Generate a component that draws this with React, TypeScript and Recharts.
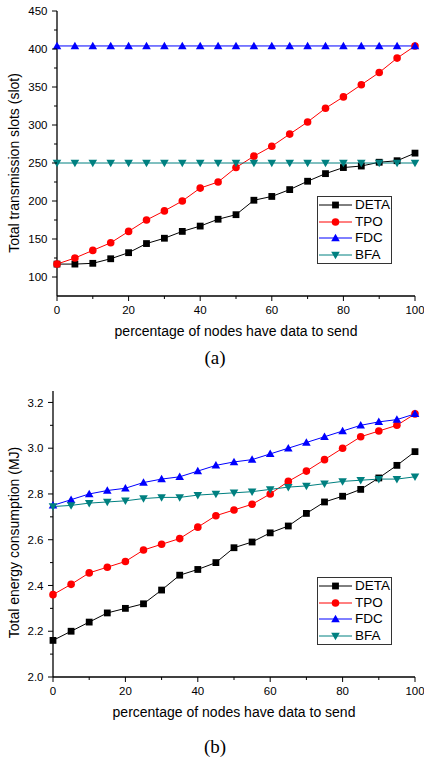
import React from 'react';
import { LineChart, Line, XAxis, YAxis, Legend } from 'recharts';

const FONT = '"Liberation Sans", Arial, Helvetica, sans-serif';
const SERIF = '"Liberation Serif", "Times New Roman", serif';

// x: percentage of nodes that have data to send
const percentNodes = [0, 5, 10, 15, 20, 25, 30, 35, 40, 45, 50, 55, 60, 65, 70, 75, 80, 85, 90, 95, 100];
const xMajorTicks = [0, 20, 40, 60, 80, 100];
const xMinorTicks = [10, 30, 50, 70, 90];

// (a) total transmission slots
const slotsDeta = [117, 117, 118, 124, 132, 144, 151, 160, 167, 176, 182, 201, 206, 215, 226, 236, 244, 246, 251, 253, 263];
const slotsTpo = [117, 125, 135, 145, 160, 175, 187, 200, 217, 225, 244, 259, 272, 288, 304, 322, 337, 353, 369, 388, 404];
const slotsFdc = [404, 404, 404, 404, 404, 404, 404, 404, 404, 404, 404, 404, 404, 404, 404, 404, 404, 404, 404, 404, 404];
const slotsBfa = [250, 250, 250, 250, 250, 250, 250, 250, 250, 250, 250, 250, 250, 250, 250, 250, 250, 250, 250, 250, 250];
const slotMajorTicks = [100, 150, 200, 250, 300, 350, 400, 450];
const slotMinorTicks = [125, 175, 225, 275, 325, 375, 425];

// (b) total energy consumption (MJ)
const energyDeta = [2.16, 2.2, 2.24, 2.28, 2.3, 2.32, 2.38, 2.445, 2.47, 2.5, 2.565, 2.59, 2.63, 2.66, 2.715, 2.765, 2.79, 2.82, 2.87, 2.925, 2.985];
const energyTpo = [2.36, 2.405, 2.455, 2.48, 2.505, 2.555, 2.58, 2.605, 2.655, 2.705, 2.73, 2.755, 2.8, 2.855, 2.9, 2.95, 3.0, 3.05, 3.075, 3.1, 3.15];
const energyFdc = [2.75, 2.775, 2.8, 2.815, 2.825, 2.85, 2.865, 2.875, 2.9, 2.925, 2.94, 2.95, 2.975, 3.0, 3.025, 3.05, 3.075, 3.1, 3.115, 3.125, 3.15];
const energyBfa = [2.745, 2.75, 2.76, 2.765, 2.77, 2.78, 2.785, 2.785, 2.795, 2.8, 2.805, 2.81, 2.82, 2.83, 2.835, 2.845, 2.855, 2.86, 2.865, 2.865, 2.875];
const energyMajorTicks = [2.0, 2.2, 2.4, 2.6, 2.8, 3.0, 3.2];
const energyMinorTicks = [2.1, 2.3, 2.5, 2.7, 2.9, 3.1];

const SERIES = [
  { key: 'deta', name: 'DETA', color: '#000000', marker: 'square' },
  { key: 'tpo', name: 'TPO', color: '#ff0000', marker: 'circle' },
  { key: 'fdc', name: 'FDC', color: '#0000ff', marker: 'up' },
  { key: 'bfa', name: 'BFA', color: '#008080', marker: 'down' },
];

const slotRows = percentNodes.map((p, i) => ({
  p,
  deta: slotsDeta[i],
  tpo: slotsTpo[i],
  fdc: slotsFdc[i],
  bfa: slotsBfa[i],
}));

const energyRows = percentNodes.map((p, i) => ({
  p,
  deta: energyDeta[i],
  tpo: energyTpo[i],
  fdc: energyFdc[i],
  bfa: energyBfa[i],
}));

const Marker = ({ cx, cy, shape, color }: { cx?: number; cy?: number; shape: string; color: string }) => {
  if (cx == null || cy == null) return null;
  if (shape === 'square') return <rect x={cx - 3.4} y={cy - 3.4} width={6.8} height={6.8} fill={color} />;
  if (shape === 'circle') return <circle cx={cx} cy={cy} r={3.8} fill={color} />;
  if (shape === 'up')
    return <polygon points={`${cx},${cy - 4.3} ${cx - 4.3},${cy + 3.2} ${cx + 4.3},${cy + 3.2}`} fill={color} />;
  return <polygon points={`${cx},${cy + 4.3} ${cx - 4.3},${cy - 3.2} ${cx + 4.3},${cy - 3.2}`} fill={color} />;
};

const LegendBox = () => (
  <div style={{ border: '1px solid #333', width: 73, background: '#fff', fontFamily: FONT, fontSize: 13.5, color: '#000' }}>
    {SERIES.map(s => (
      <div key={s.key} style={{ display: 'flex', alignItems: 'center', height: 16.5 }}>
        <svg width={37} height={16} style={{ display: 'block' }}>
          <line x1={1} y1={8} x2={34} y2={8} stroke={s.color} strokeWidth={1} />
          <Marker cx={17.5} cy={8} shape={s.marker} color={s.color} />
        </svg>
        <span style={{ lineHeight: '16px' }}>{s.name}</span>
      </div>
    ))}
  </div>
);

const isMajor = (majors: number[], v: number) => majors.some(m => Math.abs(m - v) < 1e-9);

const BottomTick = (props: any) => {
  const { x, y, payload } = props;
  const major = isMajor(xMajorTicks, payload.value);
  return (
    <g>
      <line x1={x} y1={y} x2={x} y2={y + (major ? 5 : 3)} stroke="#000" strokeWidth={1} />
      {major && (
        <text x={x} y={y + 18} textAnchor="middle" fontSize={11.5} fill="#000" fontFamily={FONT}>
          {payload.value}
        </text>
      )}
    </g>
  );
};

const TopTick = (props: any) => {
  const { x, y, payload } = props;
  const major = isMajor(xMajorTicks, payload.value);
  return <line x1={x} y1={y} x2={x} y2={y + (major ? 5 : 3)} stroke="#000" strokeWidth={1} />;
};

const makeLeftTick = (majors: number[], fmt: (v: number) => string) => (props: any) => {
  const { x, y, payload } = props;
  const major = isMajor(majors, payload.value);
  return (
    <g>
      <line x1={x} y1={y} x2={x - (major ? 5 : 3)} y2={y} stroke="#000" strokeWidth={1} />
      {major && (
        <text x={x - 9.5} y={y} dy="0.36em" textAnchor="end" fontSize={11.5} fill="#000" fontFamily={FONT}>
          {fmt(payload.value)}
        </text>
      )}
    </g>
  );
};

const makeRightTick = (majors: number[]) => (props: any) => {
  const { x, y, payload } = props;
  const major = isMajor(majors, payload.value);
  return <line x1={x} y1={y} x2={x - (major ? 5 : 3)} y2={y} stroke="#000" strokeWidth={1} />;
};

const frame = { stroke: '#000', strokeWidth: 1.3 };
const xTicks = [...xMajorTicks, ...xMinorTicks].sort((a, b) => a - b);

type PanelProps = {
  rows: Record<string, number>[];
  yDomain: [number, number];
  yMajor: number[];
  yMinor: number[];
  yFormat: (v: number) => string;
  yAxisWidth: number;
  xAxisHeight: number;
  yLabel: string;
  yLabelDx: number;
  yLabelDy: number;
  xLabelOffset: number;
  legendLeft: number;
  legendTop: number;
};

const Panel = (p: PanelProps) => {
  const yTicks = [...p.yMajor, ...p.yMinor].sort((a, b) => a - b);
  return (
    <LineChart
      width={424}
      height={340}
      data={p.rows}
      margin={{ top: 11, right: 9, bottom: 0, left: 0 }}
      style={{ fontFamily: FONT }}
    >
      <XAxis
        dataKey="p"
        type="number"
        domain={[0, 100]}
        ticks={xTicks}
        interval={0}
        height={p.xAxisHeight}
        tickSize={0}
        tickMargin={0}
        tickLine={false}
        axisLine={frame}
        tick={BottomTick}
        label={{ value: 'percentage of nodes have data to send', position: 'insideBottom', offset: p.xLabelOffset, fontSize: 14, fill: '#000' }}
      />
      <XAxis
        xAxisId="top"
        orientation="top"
        type="number"
        domain={[0, 100]}
        allowDataOverflow
        ticks={xTicks}
        interval={0}
        height={0}
        tickSize={0}
        tickMargin={0}
        tickLine={false}
        axisLine={frame}
        tick={TopTick}
      />
      <YAxis
        type="number"
        domain={p.yDomain}
        ticks={yTicks}
        interval={0}
        width={p.yAxisWidth}
        tickSize={0}
        tickMargin={0}
        tickLine={false}
        axisLine={frame}
        tick={makeLeftTick(p.yMajor, p.yFormat)}
        label={{ value: p.yLabel, angle: -90, position: 'center', dx: p.yLabelDx, dy: p.yLabelDy, fontSize: 14, fill: '#000' }}
      />
      <YAxis
        yAxisId="right"
        orientation="right"
        type="number"
        domain={p.yDomain}
        allowDataOverflow
        ticks={yTicks}
        interval={0}
        width={0}
        tickSize={0}
        tickMargin={0}
        tickLine={false}
        axisLine={frame}
        tick={makeRightTick(p.yMajor)}
      />
      <Legend
        layout="horizontal"
        verticalAlign="middle"
        align="center"
        content={() => <LegendBox />}
        wrapperStyle={{ left: p.legendLeft, top: p.legendTop, width: 75 }}
      />
      {SERIES.map(s => (
        <Line
          key={s.key}
          type="linear"
          dataKey={s.key}
          name={s.name}
          stroke={s.color}
          strokeWidth={1}
          isAnimationActive={false}
          activeDot={false}
          dot={(d: any) => <Marker key={`${s.key}-${d.index}`} cx={d.cx} cy={d.cy} shape={s.marker} color={s.color} />}
        />
      ))}
    </LineChart>
  );
};

export default function App() {
  return (
    <div style={{ position: 'absolute', left: 0, top: 0, width: 424, height: 762, background: '#fff' }}>
      <div style={{ position: 'absolute', left: 0, top: 0 }}>
        <Panel
          rows={slotRows}
          yDomain={[75, 450]}
          yMajor={slotMajorTicks}
          yMinor={slotMinorTicks}
          yFormat={v => String(v)}
          yAxisWidth={57}
          xAxisHeight={44}
          yLabel="Total transmission slots (slot)"
          yLabelDx={-14.8}
          yLabelDy={9.5}
          xLabelOffset={4.5}
          legendLeft={317}
          legendTop={196}
        />
      </div>
      <div style={{ position: 'absolute', left: 190, width: 50, top: 348, textAlign: 'center', fontFamily: SERIF, fontSize: 19, lineHeight: '19px' }}>
        (a)
      </div>
      <div style={{ position: 'absolute', left: 0, top: 380 }}>
        <Panel
          rows={energyRows}
          yDomain={[2.0, 3.25]}
          yMajor={energyMajorTicks}
          yMinor={energyMinorTicks}
          yFormat={v => v.toFixed(1)}
          yAxisWidth={53}
          xAxisHeight={43}
          yLabel="Total energy consumption (MJ)"
          yLabelDx={-12}
          yLabelDy={8.5}
          xLabelOffset={3}
          legendLeft={317}
          legendTop={197}
        />
      </div>
      <div style={{ position: 'absolute', left: 190, width: 50, top: 737, textAlign: 'center', fontFamily: SERIF, fontSize: 19, lineHeight: '19px' }}>
        (b)
      </div>
    </div>
  );
}
